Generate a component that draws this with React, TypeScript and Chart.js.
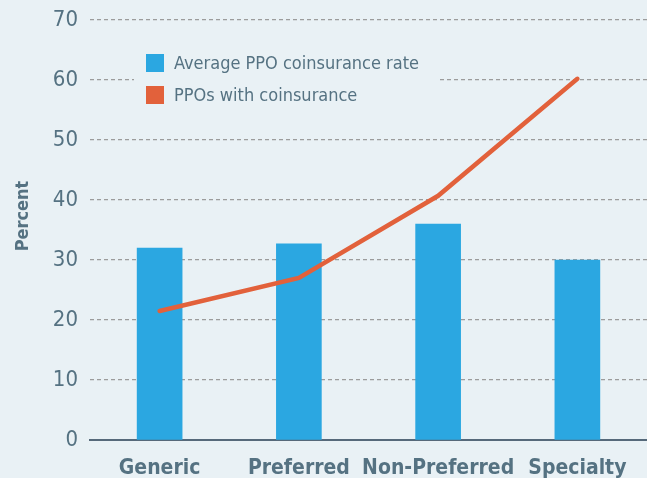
import React, { useEffect, useRef } from "react";
import Chart from "chart.js/auto";

const categories = ["Generic", "Preferred", "Non-Preferred", "Specialty"];
const avgCoinsuranceRate = [32, 32.7, 36, 30];
const ppoWithCoinsurance = [21.5, 27, 40.7, 60.2];
const yMin = 0;
const yMax = 70;
const yStep = 10;
const seriesNames = ["Average PPO coinsurance rate", "PPOs with coinsurance"];
const yTitle = "Percent";

const FONT = '"Liberation Sans Narrow", "DejaVu Sans Condensed", "Arial Narrow", "Roboto", sans-serif';
const BG = "#e9f1f5";
const TEXT = "#557282";
const BLUE = "#2ba7e1";
const ORANGE = "#e2613b";

const overlayPlugin = {
  id: "overlay",
  afterDraw(chart: any) {
    const ctx = chart.ctx;
    ctx.save();
    // legend background
    ctx.fillStyle = BG;
    ctx.fillRect(134, 44, 303, 70);
    const items = [
      { label: seriesNames[0], color: BLUE, y: 63 },
      { label: seriesNames[1], color: ORANGE, y: 95 },
    ];
    ctx.font = `18px ${FONT}`;
    ctx.textBaseline = "middle";
    ctx.textAlign = "left";
    for (const it of items) {
      ctx.fillStyle = it.color;
      ctx.fillRect(146, it.y - 9, 18, 18);
      ctx.fillStyle = TEXT;
      ctx.fillText(it.label, 174, it.y + 1);
    }
    // y axis title
    ctx.translate(23, 216);
    ctx.rotate(-Math.PI / 2);
    ctx.textAlign = "center";
    ctx.font = `bold 18px ${FONT}`;
    ctx.fillStyle = TEXT;
    ctx.fillText(yTitle, 0, 0);
    ctx.restore();
  },
};

export default function App() {
  const ref = useRef<HTMLCanvasElement>(null);
  useEffect(() => {
    if (!ref.current) return;
    const chart = new Chart(ref.current, {
      type: "bar",
      data: {
        labels: categories,
        datasets: [
          {
            type: "line",
            label: seriesNames[1],
            data: ppoWithCoinsurance,
            borderColor: ORANGE,
            backgroundColor: ORANGE,
            borderWidth: 4.5,
            pointRadius: 0,
            tension: 0,
            order: 0,
            borderCapStyle: "round",
          } as any,
          {
            type: "bar",
            label: seriesNames[0],
            data: avgCoinsuranceRate,
            backgroundColor: BLUE,
            barThickness: 45,
            order: 1,
          },
        ],
      },
      options: {
        responsive: false,
        animation: false,
        maintainAspectRatio: false,
        layout: { padding: { top: 20, right: 0, left: 0, bottom: 0 } },
        plugins: { legend: { display: false }, tooltip: { enabled: false } },
        scales: {
          x: {
            grid: { display: false, drawTicks: false },
            border: { display: true, color: "#56697a", width: 2 },
            ticks: {
              color: TEXT,
              font: { family: FONT, size: 21, weight: "bold" },
              padding: 16,
              maxRotation: 0,
              autoSkip: false,
            },
            afterFit: (s: any) => {
              s.height = 38;
              s.paddingLeft = 0;
              s.paddingRight = 0;
            },
          },
          y: {
            min: yMin,
            max: yMax,
            ticks: {
              stepSize: yStep,
              color: TEXT,
              font: { family: FONT, size: 22 },
              padding: 12,
            },
            grid: {
              drawTicks: false,
              color: (c: any) => (c.tick && c.tick.value === 0 ? "rgba(0,0,0,0)" : "#9c9c9c"),
              lineWidth: 1.3,
            },
            border: { display: false, dash: [4, 3] },
            afterFit: (s: any) => {
              s.width = 90;
              s.paddingTop = 0;
              s.paddingBottom = 0;
            },
          },
        },
      },
      plugins: [overlayPlugin],
    });
    return () => chart.destroy();
  }, []);
  return (
    <div style={{ position: "fixed", left: 0, top: 0, width: 647, height: 478, background: BG }}>
      <canvas ref={ref} width={647} height={478} style={{ display: "block" }} />
    </div>
  );
}
